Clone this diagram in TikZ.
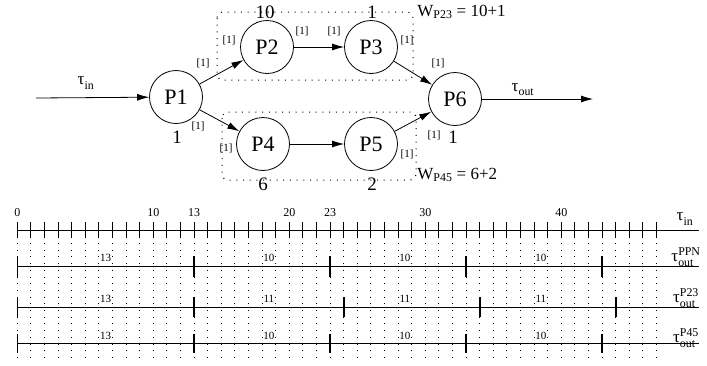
\documentclass[tikz,border=0pt]{standalone}
\usepackage{fontspec}
\setmainfont{Liberation Serif}
\usepackage{amsmath}
\usetikzlibrary{arrows.meta, positioning}
\tikzset{>={Latex[length=12pt,width=7pt]}}
\tikzset{
  proc/.style={draw, circle, minimum size=53pt, inner sep=0pt, font=\fontsize{22}{24}\selectfont},
  wgt/.style={font=\fontsize{19}{20}\selectfont, inner sep=0pt},
  tok/.style={font=\fontsize{11}{12}\selectfont, inner sep=0pt},
  lbl/.style={font=\fontsize{17}{18}\selectfont, inner sep=0pt},
  sparse/.style={line width=1pt, dash pattern=on 1pt off 5.7pt},
  cluster/.style={sparse, rounded corners=6pt},
  tickline/.style={line width=0.9pt},
  stamp/.style={line width=1.6pt},
  period/.style={font=\fontsize{11}{12}\selectfont, fill=white, inner sep=0.6pt},
  tlabel/.style={font=\fontsize{12}{13}\selectfont, inner sep=0pt}
}
\newcommand{\tsym}[2]{$\text{τ}^{\text{#1}}_{\text{#2}}$}
\begin{document}
\begin{tikzpicture}[x=1pt, y=-1pt, line width=0.8pt]
  \useasboundingbox (0,0) rectangle (707,365);
  % processes
  \node[proc] (p1) at (176,97) {P1};
  \node[proc] (p2) at (267,47) {P2};
  \node[proc] (p3) at (371,47) {P3};
  \node[proc] (p4) at (263,144) {P4};
  \node[proc] (p5) at (371,144) {P5};
  \node[proc] (p6) at (455,99) {P6};
  \coordinate (in) at (36,98);
  \coordinate (out) at (593,99);
  % clusters
  \draw[cluster] (217,12) rectangle (413,80);
  \draw[cluster] (222,112) rectangle (416,180);
  % channels
  \draw[->] (in) -- (p1);
  \draw[->] (p1) -- (p2);
  \draw[->] (p2) -- (p3);
  \draw[->] (p1) -- (p4);
  \draw[->] (p4) -- (p5);
  \draw[->] (p3) -- (p6);
  \draw[->] (p5) -- (p6);
  \draw[->] (p6) -- (out);
  \node[lbl] (tin) at (86,83) {\tsym{}{in}};
  \node[lbl] (tout) at (523,90) {\tsym{}{out}};
  % weights
  \node[wgt] (w1) at (177,137) {1};
  \node[wgt] (w2) at (265,12) {10};
  \node[wgt] (w3) at (372,12) {1};
  \node[wgt] (w4) at (263,184) {6};
  \node[wgt] (w5) at (372,184) {2};
  \node[wgt] (w6) at (453,137) {1};
  \node[lbl, anchor=west] (wp23) at (417,12) {W$_{\text{P23}}$ = 10+1};
  \node[lbl, anchor=west] (wp45) at (417,175) {W$_{\text{P45}}$ = 6+2};
  % tokens
  \node[tok] (t12a) at (203,63) {[1]};
  \node[tok] (t12b) at (229,40) {[1]};
  \node[tok] (t23a) at (302,31) {[1]};
  \node[tok] (t23b) at (334,31) {[1]};
  \node[tok] (t36a) at (407,40) {[1]};
  \node[tok] (t36b) at (438,63) {[1]};
  \node[tok] (t14a) at (198,126) {[1]};
  \node[tok] (t14b) at (226,148) {[1]};
  \node[tok] (t56a) at (407,154) {[1]};
  \node[tok] (t56b) at (434,135) {[1]};
  % time lines
  \begin{scope}[x=13.6pt, xshift=17.3pt]
    \foreach \i in {0,...,47}
      \draw[sparse] (\i,243) -- (\i,362);
    \draw (0,230) -- (50.1,230);
    \foreach \i in {0,...,47}
      \draw[tickline] (\i,222) -- (\i,238);
    \foreach \i in {0,10,13,20,23,30,40}
      \node[tlabel] (n\i) at (\i,213) {\i};
    \draw (0,266) -- (50.1,266);
    \draw (0,307) -- (50.1,307);
    \draw (0,343) -- (50.1,343);
    \foreach \i in {0,13,23,33,43}
      \draw[stamp] (\i,256) -- (\i,277);
    \foreach \i in {0,13,24,34,44}
      \draw[stamp] (\i,297) -- (\i,317);
    \foreach \i in {0,13,23,33,43}
      \draw[stamp] (\i,334) -- (\i,353);
    \foreach \x/\t in {6.5/13,18.5/10,28.5/10,38.5/10}
      \node[period] at (\x,258) {\t};
    \foreach \x/\t in {6.5/13,18.5/11,28.5/11,38.5/11}
      \node[period] at (\x,299) {\t};
    \foreach \x/\t in {6.5/13,18.5/10,28.5/10,38.5/10}
      \node[period] at (\x,336) {\t};
  \end{scope}
  \node[lbl] (rin) at (685,219) {\tsym{}{in}};
  \node[lbl] (rppn) at (686,257) {\tsym{PPN}{out}};
  \node[lbl] (rp23) at (686,298) {\tsym{P23}{out}};
  \node[lbl] (rp45) at (686,338) {\tsym{P45}{out}};
\end{tikzpicture}
\end{document}
